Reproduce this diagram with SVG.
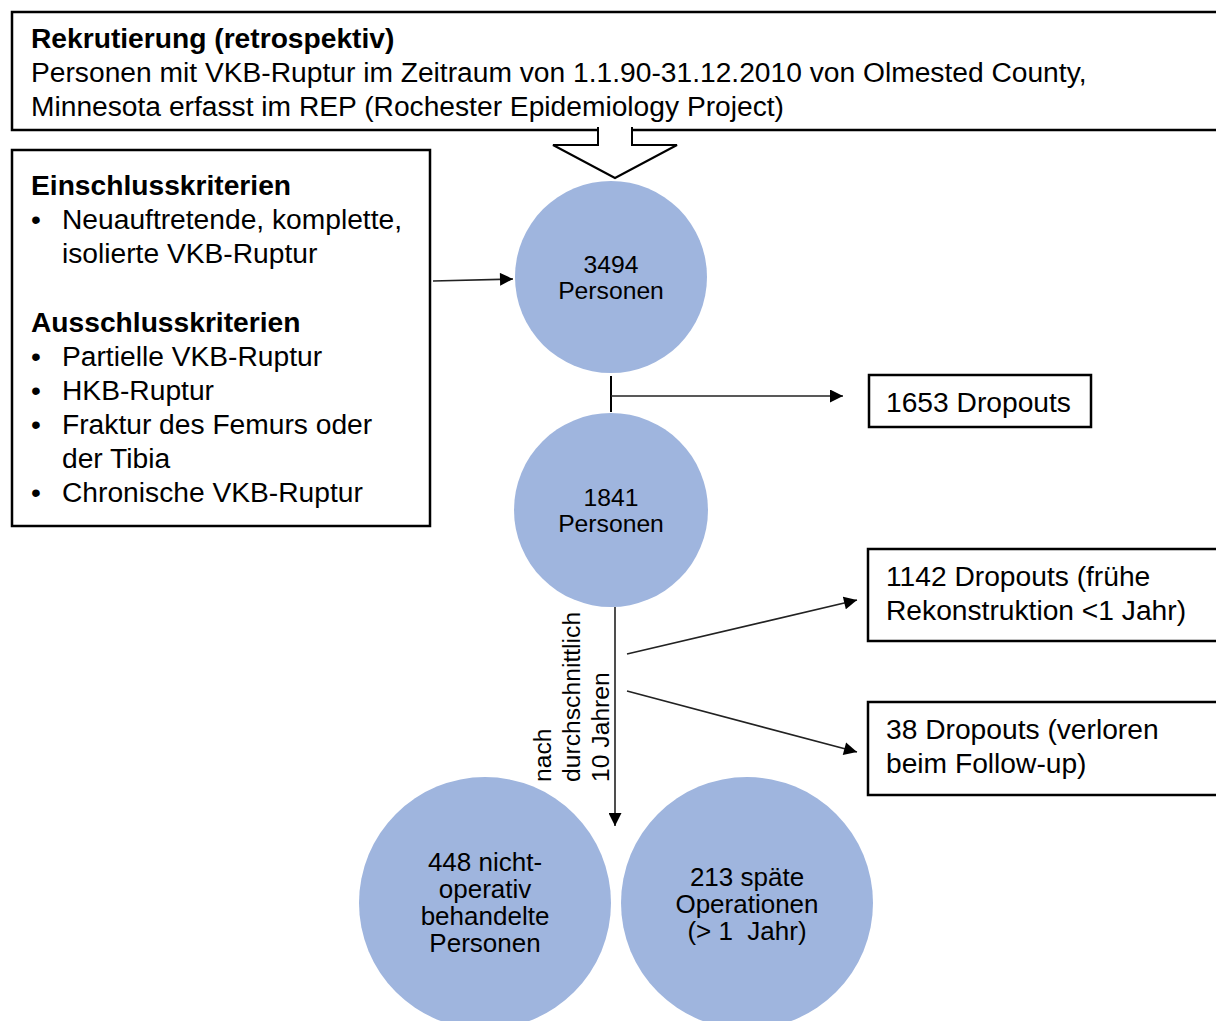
<svg xmlns="http://www.w3.org/2000/svg" width="1216" height="1021" viewBox="0 0 1216 1021">
  <style>
    text { font-family: "Liberation Sans", Arial, sans-serif; font-size: 28.2px; fill: #000; }
    .b { font-weight: bold; }
    .mid { text-anchor: middle; }
    .c { font-size: 24.7px; }
    .c2 { font-size: 26px; }
    .box { fill: #fff; stroke: #000; stroke-width: 2.5; }
    .circ { fill: #9FB5DE; }
    .ln { fill: none; stroke: #222; stroke-width: 1.6; }
  </style>
  <defs>
    <marker id="headL" viewBox="0 0 10 10" refX="10" refY="5" markerWidth="14" markerHeight="13" markerUnits="userSpaceOnUse" orient="auto">
      <path d="M0,0 L10,5 L0,10 z" fill="#000"/>
    </marker>
  </defs>

  <!-- recruitment source -->
  <g id="recruitment">
    <rect class="box" x="12" y="12" width="1220" height="118"/>
    <text class="b" x="31" y="48">Rekrutierung (retrospektiv)</text>
    <text x="31" y="82">Personen mit VKB-Ruptur im Zeitraum von 1.1.90-31.12.2010 von Olmested County,</text>
    <text x="31" y="116">Minnesota erfasst im REP (Rochester Epidemiology Project)</text>
    <path d="M598,127 V145 H553 L615,178 L677,145 H632 V127" fill="#fff" stroke="#000" stroke-width="2"/>
  </g>

  <!-- inclusion / exclusion criteria -->
  <g id="criteria">
    <rect class="box" x="12" y="150" width="418" height="376"/>
    <text class="b" x="31" y="195">Einschlusskriterien</text>
    <text x="31" y="229">•</text><text x="62" y="229">Neuauftretende, komplette,</text>
    <text x="62" y="263">isolierte VKB-Ruptur</text>
    <text class="b" x="31" y="332">Ausschlusskriterien</text>
    <text x="31" y="366">•</text><text x="62" y="366">Partielle VKB-Ruptur</text>
    <text x="31" y="400">•</text><text x="62" y="400">HKB-Ruptur</text>
    <text x="31" y="434">•</text><text x="62" y="434">Fraktur des Femurs oder</text>
    <text x="62" y="468">der Tibia</text>
    <text x="31" y="502">•</text><text x="62" y="502">Chronische VKB-Ruptur</text>
  </g>

  <g id="n3494">
    <circle class="circ" cx="611" cy="277" r="96"/>
    <text class="mid c" x="611" y="273">3494</text>
    <text class="mid c" x="611" y="299">Personen</text>
  </g>

  <g id="n1841">
    <circle class="circ" cx="611" cy="510" r="97"/>
    <text class="mid c" x="611" y="506">1841</text>
    <text class="mid c" x="611" y="532">Personen</text>
  </g>

  <g id="drop1653">
    <rect class="box" x="869" y="375" width="222" height="52" stroke-width="2"/>
    <text x="886" y="412">1653 Dropouts</text>
  </g>

  <g id="drop1142">
    <rect class="box" x="868" y="549" width="360" height="92"/>
    <text x="886" y="586">1142 Dropouts (frühe</text>
    <text x="886" y="620">Rekonstruktion &lt;1 Jahr)</text>
  </g>

  <g id="drop38">
    <rect class="box" x="868" y="702" width="360" height="93"/>
    <text x="886" y="739">38 Dropouts (verloren</text>
    <text x="886" y="773">beim Follow-up)</text>
  </g>

  <g id="n448">
    <circle class="circ" cx="485" cy="903" r="126"/>
    <text class="mid c2" x="485" y="871">448 nicht-</text>
    <text class="mid c2" x="485" y="898">operativ</text>
    <text class="mid c2" x="485" y="925">behandelte</text>
    <text class="mid c2" x="485" y="952">Personen</text>
  </g>

  <g id="n213">
    <circle class="circ" cx="747" cy="903" r="126"/>
    <text class="mid c2" x="747" y="886">213 späte</text>
    <text class="mid c2" x="747" y="913">Operationen</text>
    <text class="mid c2" x="747" y="940">(&gt; 1&#160; Jahr)</text>
  </g>

  <!-- connectors -->
  <g id="connectors">
    <line class="ln" x1="433" y1="281" x2="513" y2="279" marker-end="url(#headL)"/>
    <line x1="611" y1="376" x2="611" y2="412" stroke="#000" stroke-width="2"/>
    <line class="ln" x1="611" y1="396" x2="843" y2="396" stroke="#444" marker-end="url(#headL)"/>
    <line class="ln" x1="615" y1="607" x2="615" y2="826" marker-end="url(#headL)"/>
    <line class="ln" x1="627" y1="654" x2="857" y2="600" marker-end="url(#headL)"/>
    <line class="ln" x1="627" y1="691" x2="857" y2="752" marker-end="url(#headL)"/>
    <g transform="rotate(-90)">
      <text class="c" x="-782" y="551">nach</text>
      <text class="c" x="-782" y="580">durchschnittlich</text>
      <text class="c" x="-782" y="609">10 Jahren</text>
    </g>
  </g>
</svg>
